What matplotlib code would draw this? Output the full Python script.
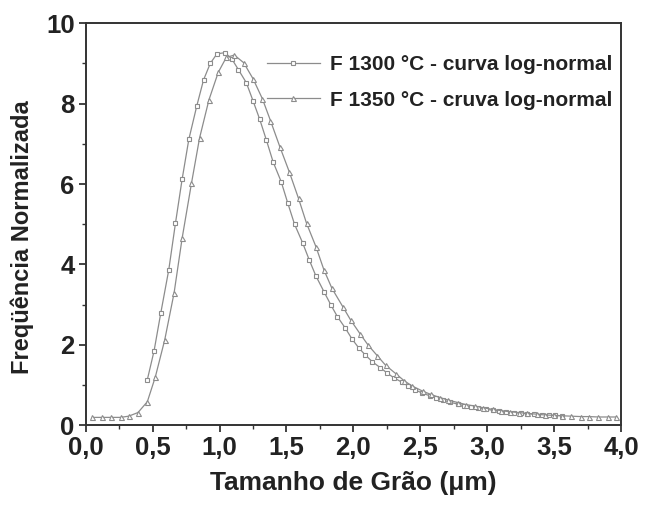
import matplotlib
matplotlib.use("Agg")
import matplotlib.pyplot as plt
from matplotlib.ticker import MultipleLocator, FuncFormatter

plt.rcParams["font.family"] = ["Liberation Sans", "DejaVu Sans"]
plt.rcParams["font.weight"] = "bold"

# F 1300 °C - squares
x_1300 = [0.46, 0.51, 0.56, 0.62, 0.67, 0.72, 0.77, 0.83, 0.88, 0.93,
          0.98, 1.04, 1.09, 1.14, 1.20, 1.25, 1.30, 1.35, 1.40, 1.46,
          1.51, 1.56, 1.62, 1.67, 1.72, 1.78, 1.83, 1.88, 1.94, 1.99,
          2.04, 2.09, 2.14, 2.20, 2.25, 2.30, 2.36, 2.41, 2.46, 2.51,
          2.57, 2.62, 2.67, 2.72, 2.78, 2.83, 2.88, 2.93, 2.99, 3.04,
          3.09, 3.14, 3.20, 3.25, 3.30, 3.35, 3.41, 3.46, 3.51, 3.56]
y_1300 = [1.13, 1.84, 2.78, 3.86, 5.02, 6.12, 7.11, 7.95, 8.59, 9.00,
          9.24, 9.27, 9.12, 8.85, 8.52, 8.07, 7.61, 7.09, 6.55, 6.06,
          5.52, 5.00, 4.54, 4.11, 3.71, 3.32, 3.00, 2.70, 2.41, 2.14,
          1.92, 1.74, 1.58, 1.43, 1.30, 1.18, 1.07, 0.97, 0.88, 0.80,
          0.73, 0.67, 0.62, 0.57, 0.52, 0.48, 0.45, 0.42, 0.39, 0.37,
          0.35, 0.33, 0.31, 0.29, 0.28, 0.27, 0.26, 0.25, 0.24, 0.23]

# F 1350 °C - triangles
x_1350 = [0.05, 0.12, 0.19, 0.26, 0.32, 0.39, 0.46, 0.52, 0.59, 0.66,
          0.72, 0.79, 0.85, 0.92, 0.99, 1.05, 1.11, 1.18, 1.25, 1.32,
          1.38, 1.45, 1.52, 1.59, 1.65, 1.72, 1.78, 1.84, 1.92, 1.98,
          2.05, 2.11, 2.18, 2.24, 2.32, 2.38, 2.44, 2.52, 2.58, 2.65,
          2.71, 2.78, 2.84, 2.91, 2.97, 3.04, 3.10, 3.17, 3.24, 3.30,
          3.37, 3.43, 3.50, 3.56, 3.63, 3.70, 3.76, 3.83, 3.90, 3.96]
y_1350 = [0.19, 0.19, 0.19, 0.19, 0.22, 0.31, 0.58, 1.20, 2.12, 3.29,
          4.65, 6.02, 7.14, 8.09, 8.78, 9.15, 9.21, 9.02, 8.62, 8.12,
          7.58, 6.93, 6.31, 5.64, 5.02, 4.44, 3.86, 3.40, 2.95, 2.61,
          2.27, 1.99, 1.72, 1.49, 1.27, 1.10, 0.97, 0.84, 0.76, 0.68,
          0.62, 0.56, 0.51, 0.47, 0.43, 0.39, 0.36, 0.33, 0.31, 0.29,
          0.27, 0.25, 0.24, 0.23, 0.22, 0.21, 0.21, 0.20, 0.20, 0.20]

labels = ["F 1300 °C - curva log-normal", "F 1350 °C - cruva log-normal"]

fig = plt.figure(figsize=(6.47, 5.07), dpi=100)
ax = fig.add_axes([0.1326, 0.1617, 0.8272, 0.7923])

line_kw = dict(color="#8c8c8c", lw=0.9, markerfacecolor="white",
               markeredgecolor="#8c8c8c", markeredgewidth=0.8)
ax.plot(x_1300, y_1300, marker="s", ms=3.4, label=labels[0], **line_kw)
ax.plot(x_1350, y_1350, marker="^", ms=3.6, label=labels[1], **line_kw)

ax.set_xlim(0, 4.0)
ax.set_ylim(0, 10)
ax.xaxis.set_major_locator(MultipleLocator(0.5))
ax.xaxis.set_minor_locator(MultipleLocator(0.25))
ax.yaxis.set_major_locator(MultipleLocator(2))
ax.yaxis.set_minor_locator(MultipleLocator(1))
ax.xaxis.set_major_formatter(FuncFormatter(lambda v, p: ("%.1f" % v).replace(".", ",")))
ax.yaxis.set_major_formatter(FuncFormatter(lambda v, p: "%d" % v))

for s in ax.spines.values():
    s.set_linewidth(1.4)
    s.set_color("#333333")
ax.tick_params(which="major", direction="out", length=5, width=1.2,
               labelsize=18.5, colors="#222222", pad=3)
ax.tick_params(which="minor", direction="out", length=3, width=1.0, colors="#333333")

ax.set_xlabel("Tamanho de Grão (μm)", fontsize=19, fontweight="bold", color="#222222", labelpad=8)
ax.set_ylabel("Freqüência Normalizada", fontsize=17, fontweight="bold", color="#222222")
ax.yaxis.set_label_coords(-0.097, 0.468)

leg = ax.legend(loc="upper right", frameon=False, fontsize=15, handlelength=2.55,
                labelspacing=0.8, borderaxespad=0.0, borderpad=0.4, handletextpad=0.5,
                bbox_to_anchor=(1.0, 0.942))
for t in leg.get_texts():
    t.set_color("#222222")

fig.savefig("out.png", dpi=100)
